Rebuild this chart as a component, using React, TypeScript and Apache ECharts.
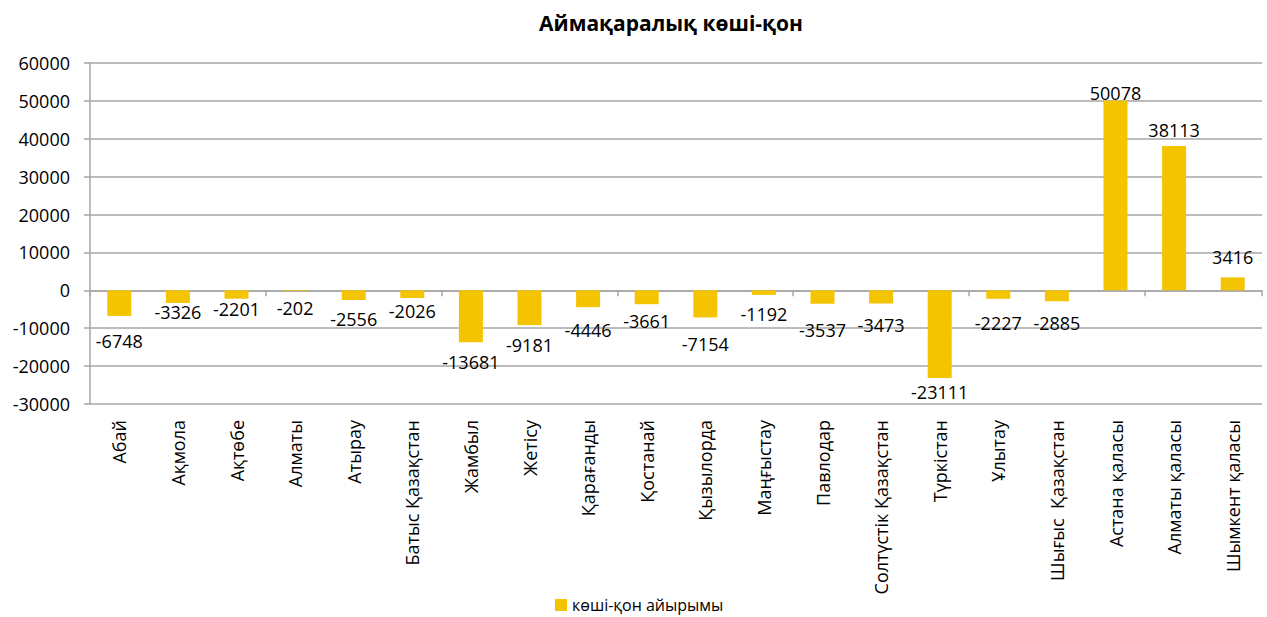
import React, { useEffect, useRef } from "react";
import * as echarts from "echarts";

const regions: string[] = [
  "Абай",
  "Ақмола",
  "Ақтөбе",
  "Алматы",
  "Атырау",
  "Батыс Қазақстан",
  "Жамбыл",
  "Жетісу",
  "Қарағанды",
  "Қостанай",
  "Қызылорда",
  "Маңғыстау",
  "Павлодар",
  "Солтүстік Қазақстан",
  "Түркістан",
  "Ұлытау",
  "Шығыс  Қазақстан",
  "Астана қаласы",
  "Алматы қаласы",
  "Шымкент қаласы",
];

const netMigration: number[] = [
  -6748, -3326, -2201, -202, -2556, -2026, -13681, -9181, -4446, -3661, -7154,
  -1192, -3537, -3473, -23111, -2227, -2885, 50078, 38113, 3416,
];

// label placement gaps (px) from the bar end, as in the reference
const labelGap: number[] = [
  16, 0, 1, 8, 10, 4, 11, 11, 14, 8, 18, 10, 17, 13, 5, 15, 13, -1, 7, 11,
];

const seriesName = "көші-қон айырымы";
const title = "Аймақаралық көші-қон";
const FONT = "'Open Sans', 'Noto Sans', sans-serif";
const GRID_COLOR = "#A6A6A6";

export default function App() {
  const ref = useRef<HTMLDivElement>(null);

  useEffect(() => {
    if (!ref.current) return;
    const chart = echarts.init(ref.current, undefined, { renderer: "svg" });
    chart.setOption({
      animation: false,
      backgroundColor: "#ffffff",
      textStyle: { fontFamily: FONT },
      title: {
        text: title,
        left: 666,
        top: 7,
        textAlign: "center",
        textStyle: {
          fontFamily: FONT,
          fontSize: 21,
          fontWeight: "bold",
          color: "#000000",
        },
      },
      legend: {
        top: 597,
        left: 555,
        padding: 0,
        itemWidth: 12,
        itemHeight: 12,
        itemGap: 4,
        icon: "rect",
        textStyle: {
          fontFamily: FONT,
          fontSize: 16,
          lineHeight: 16,
          color: "#000000",
        },
        data: [seriesName],
      },
      grid: { left: 90, right: 5, top: 63, bottom: 213, containLabel: false },
      xAxis: [
        {
          type: "category",
          data: regions,
          axisLine: {
            onZero: true,
            lineStyle: { color: GRID_COLOR, width: 1.5 },
          },
          axisTick: {
            show: true,
            length: 6,
            lineStyle: { color: GRID_COLOR, width: 1.5 },
          },
          axisLabel: { show: false },
          splitLine: { show: false },
        },
        {
          type: "category",
          data: regions,
          position: "bottom",
          axisLine: { show: false, onZero: false },
          axisTick: { show: false },
          axisLabel: {
            show: true,
            rotate: 90,
            margin: 16,
            interval: 0,
            fontFamily: FONT,
            fontSize: 18,
            color: "#000000",
          },
          splitLine: { show: false },
        },
      ],
      yAxis: {
        type: "value",
        min: -30000,
        max: 60000,
        interval: 10000,
        axisLine: { show: true, lineStyle: { color: GRID_COLOR, width: 1.5 } },
        axisTick: {
          show: true,
          length: 6,
          lineStyle: { color: GRID_COLOR, width: 1.5 },
        },
        axisLabel: {
          margin: 20,
          fontFamily: FONT,
          fontSize: 18,
          color: "#000000",
          formatter: (v: number) => String(v),
        },
        splitLine: { lineStyle: { color: GRID_COLOR, width: 1.5 } },
      },
      series: [
        {
          name: seriesName,
          type: "bar",
          xAxisIndex: 0,
          barWidth: 24,
          itemStyle: { color: "#F5C400" },
          label: {
            show: true,
            fontFamily: FONT,
            fontSize: 18,
            lineHeight: 18,
            color: "#000000",
          },
          data: netMigration.map((v, i) => ({
            value: v,
            label: {
              position: v < 0 ? "bottom" : "top",
              distance: labelGap[i],
            },
          })),
        },
      ],
    });
    return () => chart.dispose();
  }, []);

  return (
    <div
      ref={ref}
      style={{ position: "absolute", left: 0, top: 0, width: 1267, height: 617 }}
    />
  );
}
